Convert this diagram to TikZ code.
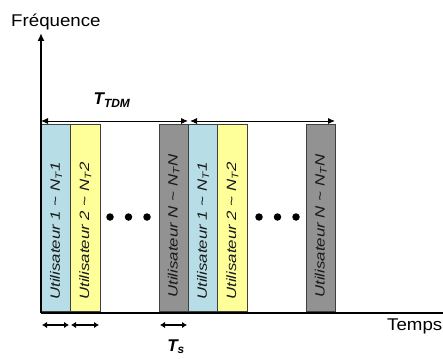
\documentclass[tikz,border=0pt]{standalone}
\usepackage{fontspec}
\setmainfont{Liberation Sans}
\usetikzlibrary{arrows.meta}
\definecolor{slotblue}{HTML}{B7DDE6}
\definecolor{slotyellow}{HTML}{FFFF99}
\definecolor{slotgray}{HTML}{929292}
\begin{document}
\begin{tikzpicture}[x=1pt,y=-1pt,
  slot/.style={draw=black!75, line width=0.8pt, minimum width=29.3pt, minimum height=187pt, inner sep=0pt, anchor=south west},
  ulabel/.style={rotate=90, anchor=west, inner sep=0pt, text=black!90, font=\fontsize{13.5}{13.5}\selectfont\itshape},
  axislabel/.style={inner sep=0pt, font=\fontsize{17}{17}\selectfont},
  tlabel/.style={inner sep=0pt, font=\fontsize{17}{17}\selectfont\bfseries\itshape},
  dotnode/.style={circle, fill=black, inner sep=0pt, minimum size=7.5pt},
  axisline/.style={line width=2.4pt},
  spanarrow/.style={line width=0.9pt, {Latex[length=7pt,width=6pt]}-{Latex[length=7pt,width=6pt]}},
  tsarrow/.style={line width=1.7pt, {Latex[length=5pt,width=6.5pt]}-{Latex[length=5pt,width=6.5pt]}}
]
\useasboundingbox (0,0) rectangle (443,358);
% slots
\node[slot, fill=slotblue]   (b1) at (41,312) {};
\node[slot, fill=slotyellow] (b2) at (70.3,312) {};
\node[slot, fill=slotgray]   (b3) at (158.7,312) {};
\node[slot, fill=slotblue]   (b4) at (188,312) {};
\node[slot, fill=slotyellow] (b5) at (217.3,312) {};
\node[slot, fill=slotgray]   (b6) at (305.7,312) {};
% slot labels
\node[ulabel] (u1) at ([yshift=12pt]b1.south) {\scalebox{1.25}[1]{Utilisateur 1 \textasciitilde{} \textit{N}\textsubscript{\textit{T}}1}};
\node[ulabel] (u2) at ([yshift=12pt]b2.south) {\scalebox{1.25}[1]{Utilisateur 2 \textasciitilde{} \textit{N}\textsubscript{\textit{T}}2}};
\node[ulabel] (u3) at ([yshift=14pt]b3.south) {\scalebox{1.25}[1]{Utilisateur \textit{N} \textasciitilde{} \textit{N}\textsubscript{\textit{T}}\textit{N}}};
\node[ulabel] (u4) at ([yshift=12pt]b4.south) {\scalebox{1.25}[1]{Utilisateur 1 \textasciitilde{} \textit{N}\textsubscript{\textit{T}}1}};
\node[ulabel] (u5) at ([yshift=12pt]b5.south) {\scalebox{1.25}[1]{Utilisateur 2 \textasciitilde{} \textit{N}\textsubscript{\textit{T}}2}};
\node[ulabel] (u6) at ([yshift=14pt]b6.south) {\scalebox{1.25}[1]{Utilisateur \textit{N} \textasciitilde{} \textit{N}\textsubscript{\textit{T}}\textit{N}}};
% dots
\node[dotnode] (d1) at (110,217) {};
\node[dotnode] (d2) at (128.5,217) {};
\node[dotnode] (d3) at (147,217) {};
\node[dotnode] (d4) at (259,217) {};
\node[dotnode] (d5) at (277.5,217) {};
\node[dotnode] (d6) at (296,217) {};
% axes
\coordinate (o) at (41,313);
\coordinate (ytop) at (41,33);
\coordinate (xend) at (445,313);
\draw[axisline, -{Latex[length=8pt,width=7pt]}] (o) -- (ytop);
\draw[axisline] (o) -- (xend);
\node[axislabel, anchor=base west] (freq) at (11,27) {\scalebox{1.1}[1]{Fréquence}};
\node[axislabel, anchor=base west] (temps) at (387,330) {\scalebox{1.1}[1]{Temps}};
% T_TDM arrows
\coordinate (p1) at (41,121);
\coordinate (p2) at (188,121);
\coordinate (p3) at (190,121);
\coordinate (p4) at (335,121);
\draw[spanarrow] (p1) -- (p2);
\draw[spanarrow] (p3) -- (p4);
\node[tlabel, anchor=base] (ttdm) at (112,105) {T\textsubscript{TDM}};
% T_s arrows
\coordinate (s1) at (42,325);
\coordinate (s2) at (69,325);
\coordinate (s3) at (71,325);
\coordinate (s4) at (99,325);
\coordinate (s5) at (160,325);
\coordinate (s6) at (187,325);
\draw[tsarrow] (s1) -- (s2);
\draw[tsarrow] (s3) -- (s4);
\draw[tsarrow] (s5) -- (s6);
\node[tlabel, anchor=base] (ts) at (176,351) {T\textsubscript{s}};
\end{tikzpicture}
\end{document}
